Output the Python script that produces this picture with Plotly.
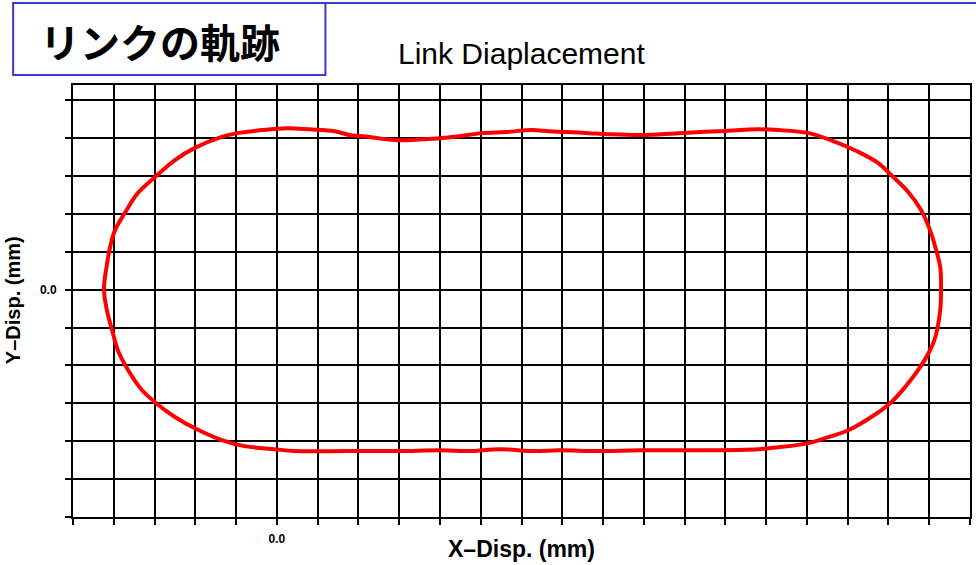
import plotly.graph_objects as go

# Trajectory of the link (data units, one grid step = 1)
x_disp = [-4.24, -4.17, -4.09, -3.97, -3.73, -3.41, -2.99, -2.50, -2.01, -1.35, -0.96, -0.37,
          0.26, 0.81, 1.42, 1.78, 2.10, 2.44, 3.00, 3.57, 4.06, 4.47, 5.03, 5.62, 6.26, 6.67,
          7.09, 7.65, 8.14, 8.95, 9.85, 10.83, 11.81, 12.30, 13.04, 13.60, 14.27, 14.75, 15.07,
          15.49, 15.80, 16.02, 16.15, 16.27, 16.29,
          16.27, 16.15, 16.02, 15.73, 15.41, 15.07, 14.58, 14.01, 13.45, 13.04, 12.30, 11.81,
          10.35, 8.88, 7.90, 6.92, 6.31, 5.45, 4.72, 3.98, 3.00, 1.78, 0.43, -0.06, -0.79,
          -1.35, -2.01, -2.50, -2.99, -3.31, -3.65, -3.90, -4.04, -4.17, -4.24]
y_disp = [0.01, 0.65, 1.12, 1.57, 2.02, 2.55, 2.97, 3.42, 3.74, 4.03, 4.13, 4.21,
          4.26, 4.23, 4.18, 4.08, 4.05, 4.00, 3.94, 3.97, 4.00, 4.05, 4.13, 4.16, 4.21, 4.18,
          4.16, 4.13, 4.10, 4.08, 4.13, 4.18, 4.23, 4.21, 4.13, 3.94, 3.63, 3.34, 3.02,
          2.57, 2.10, 1.57, 1.12, 0.59, 0.01,
          -0.54, -1.25, -1.60, -2.12, -2.57, -2.97, -3.36, -3.71, -3.92, -4.05, -4.16, -4.21,
          -4.24, -4.24, -4.26, -4.24, -4.26, -4.21, -4.26, -4.24, -4.26, -4.26, -4.26, -4.21, -4.13,
          -3.97, -3.66, -3.36, -2.97, -2.65, -2.12, -1.60, -1.07, -0.54, 0.01]

x_ticks = list(range(-5, 18))
y_ticks = list(range(-6, 6))
x_labels = ["0.0" if v == 0 else "" for v in x_ticks]
y_labels = ["0.0" if v == 0 else "" for v in y_ticks]

title_jp = "リンクの軌跡"
title_en = "Link Diaplacement"
x_title = "X–Disp. (mm)"
y_title = "Y–Disp. (mm)"

fig = go.Figure()
fig.add_trace(go.Scatter(x=x_disp, y=y_disp, mode="lines",
                         line=dict(color="#ff0000", width=4, shape="spline"),
                         hoverinfo="skip", showlegend=False))

axis_common = dict(showgrid=True, gridcolor="black", gridwidth=2, zeroline=False,
                   showline=True, linecolor="black", linewidth=2, mirror=True,
                   ticks="outside", ticklen=6, tickwidth=2, tickcolor="black",
                   tickfont=dict(family="Liberation Sans", size=12, color="black", weight="bold"))

fig.update_xaxes(range=[-5, 17], tickmode="array", tickvals=x_ticks, ticktext=x_labels,
                 ticklabelstandoff=4, **axis_common)
fig.update_yaxes(range=[-6, 5.4], tickmode="array", tickvals=y_ticks, ticktext=y_labels,
                 ticklabelstandoff=6, **axis_common)

W, H = 978, 565
L, R, T, B = 73, 6, 85, 48
pw, ph = W - L - R, H - T - B


def px(x):
    return (x - L) / pw


def py(y):
    return (H - B - y) / ph


fig.add_shape(type="rect", xref="paper", yref="paper",
              x0=px(13), x1=px(326), y0=py(75), y1=py(3),
              line=dict(color="#3a3acc", width=2), fillcolor="white", layer="above")
fig.add_shape(type="line", xref="paper", yref="paper",
              x0=px(13), x1=px(978), y0=py(3), y1=py(3),
              line=dict(color="#3a3acc", width=2))

fig.add_annotation(text=title_jp, xref="paper", yref="paper", x=px(38), y=py(41),
                   xanchor="left", yanchor="middle", showarrow=False,
                   font=dict(family="Noto Sans CJK JP", size=40, color="black", weight="bold"))
fig.add_annotation(text=title_en, xref="paper", yref="paper", x=px(523), y=py(54),
                   xanchor="center", yanchor="middle", showarrow=False,
                   font=dict(family="Liberation Sans", size=30, color="black"))
fig.add_annotation(text=x_title, xref="paper", yref="paper", x=px(523), y=py(549),
                   xanchor="center", yanchor="middle", showarrow=False,
                   font=dict(family="Liberation Sans", size=23, color="black", weight="bold"))
fig.add_annotation(text=y_title, xref="paper", yref="paper", x=px(13), y=py(300),
                   xanchor="center", yanchor="middle", showarrow=False, textangle=-90,
                   font=dict(family="Liberation Sans", size=20, color="black", weight="bold"))

fig.update_layout(width=W, height=H, margin=dict(l=L, r=R, t=T, b=B),
                  plot_bgcolor="white", paper_bgcolor="white")

fig.write_html("out.html", config={"displayModeBar": False},
               post_script="document.body.style.margin='0';document.body.style.overflow='hidden';")
